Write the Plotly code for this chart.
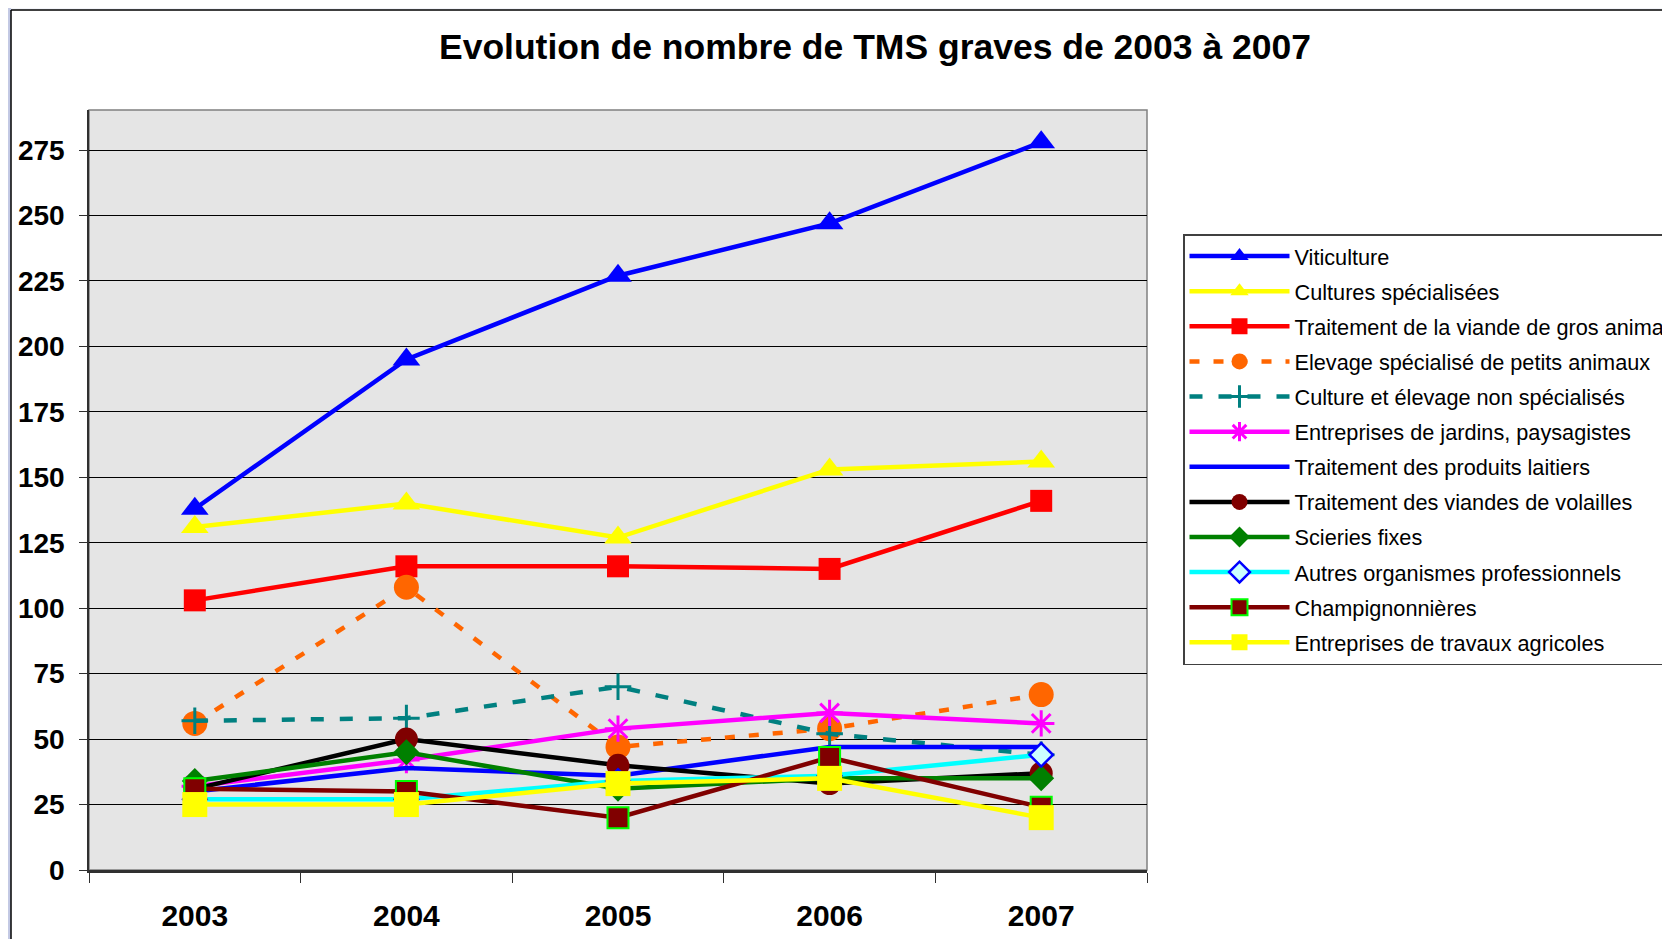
import plotly.graph_objects as go

years = ["2003", "2004", "2005", "2006", "2007"]

viticulture = [138, 195, 227, 247, 278]
cultures_specialisees = [131, 140, 127, 153, 156]
viande_gros_animaux = [103, 116, 116, 115, 141]
elevage_petits_animaux = [56, 108, 47, 54, 67]
culture_elevage_non_spec = [57, 58, 70, 52, 44]
jardins_paysagistes = [32, 42, 54, 60, 56]
produits_laitiers = [30, 39, 36, 47, 47]
viandes_volailles = [31, 50, 40, 33, 37]
scieries_fixes = [34, 45, 31, 35, 35]
autres_organismes = [27, 27, 34, 36, 44]
champignonnieres = [31, 30, 20, 43, 24]
travaux_agricoles = [25, 25, 33, 35, 20]

y_ticks = [0, 25, 50, 75, 100, 125, 150, 175, 200, 225, 250, 275]

FONT = "Liberation Sans, Arial, sans-serif"
LW = 4.5

series = [
    ("Viticulture", viticulture, dict(color="#0000FF", width=LW), dict(symbol="triangle-up", size=24, color="#0000FF")),
    ("Cultures spécialisées", cultures_specialisees, dict(color="#FFFF00", width=LW), dict(symbol="triangle-up", size=24, color="#FFFF00")),
    ("Traitement de la viande de gros animaux", viande_gros_animaux, dict(color="#FF0000", width=LW), dict(symbol="square", size=22, color="#FF0000")),
    ("Elevage spécialisé de petits animaux", elevage_petits_animaux, dict(color="#FF6600", width=LW, dash="10px,14px"), dict(symbol="circle", size=25, color="#FF6600")),
    ("Culture et élevage non spécialisés", culture_elevage_non_spec, dict(color="#008080", width=LW, dash="13px,16px"), dict(symbol="cross-thin-open", size=19, color="#008080", line=dict(color="#008080", width=3))),
    ("Entreprises de jardins, paysagistes", jardins_paysagistes, dict(color="#FF00FF", width=LW), dict(symbol="asterisk-open", size=22, color="#FF00FF", line=dict(color="#FF00FF", width=3))),
    ("Traitement des produits laitiers", produits_laitiers, dict(color="#0000FF", width=LW), None),
    ("Traitement des viandes de volailles", viandes_volailles, dict(color="#000000", width=LW), dict(symbol="circle", size=23, color="#800000")),
    ("Scieries fixes", scieries_fixes, dict(color="#008000", width=LW), dict(symbol="diamond", size=20, color="#008000")),
    ("Autres organismes professionnels", autres_organismes, dict(color="#00FFFF", width=LW), dict(symbol="diamond", size=18, color="#CCFFFF", line=dict(color="#0000FF", width=2.5))),
    ("Champignonnières", champignonnieres, dict(color="#800000", width=LW), dict(symbol="square", size=21, color="#800000", line=dict(color="#00FF00", width=2))),
    ("Entreprises de travaux agricoles", travaux_agricoles, dict(color="#FFFF00", width=LW), dict(symbol="square", size=25, color="#FFFF00")),
]

fig = go.Figure()
for i, (name, vals, line, marker) in enumerate(series):
    kw = dict(x=years, y=vals, name=name, line=line, legendgroup=f"g{i}")
    if marker is None:
        kw["mode"] = "lines"
    else:
        kw["mode"] = "lines+markers"
        kw["marker"] = marker
    fig.add_trace(go.Scatter(**kw))

OFF = 8  # page body margin
W, H = 1670 - OFF, 939 - OFF
L, R, T, B = 89 - OFF, 1147 - OFF, 110 - OFF, 870 - OFF
pw, ph = R - L, B - T


def px(x):
    # x given in page pixels
    return (x - OFF - L) / pw


def py(y):
    return (B - (y - OFF)) / ph


shapes = [
    dict(type="rect", xref="paper", yref="paper", x0=px(OFF), x1=px(1670), y0=py(10), y1=py(OFF),
         fillcolor="#f4f5fa", line=dict(width=0), layer="below"),
    dict(type="rect", xref="paper", yref="paper", x0=px(OFF), x1=px(11), y0=py(939), y1=py(OFF),
         fillcolor="#c3c9e4", line=dict(width=0), layer="below"),
    dict(type="line", xref="paper", yref="paper", x0=px(11), x1=px(1670), y0=py(10), y1=py(10),
         line=dict(color="#000000", width=1.5)),
    dict(type="line", xref="paper", yref="paper", x0=px(11), x1=px(11), y0=py(10), y1=py(939),
         line=dict(color="#000000", width=1.5)),
    dict(type="rect", xref="paper", yref="paper", x0=0, x1=1, y0=0, y1=1,
         line=dict(color="#808080", width=1.5), fillcolor="rgba(0,0,0,0)", layer="below"),
]

fig.update_layout(
    width=W, height=H,
    margin=dict(l=L, r=W - R, t=T, b=H - B, autoexpand=False),
    paper_bgcolor="#ffffff",
    plot_bgcolor="#e5e5e5",
    title=dict(text="Evolution de nombre de TMS graves de 2003 à 2007",
               font=dict(family=FONT, size=35.5, color="#000000", weight="bold"),
               xref="container", x=(875 - OFF) / W, xanchor="center",
               yref="container", y=1 - (47 - OFF) / H, yanchor="middle"),
    xaxis=dict(type="category", categoryorder="array", categoryarray=years,
               range=[-0.5, 4.5], showgrid=False, showline=True,
               linecolor="#303030", linewidth=2.5,
               ticks="outside", tickson="boundaries", ticklen=10, tickcolor="#303030", tickwidth=1,
               tickfont=dict(family=FONT, size=30, color="#000000", weight="bold"),
               ticklabelstandoff=17, zeroline=False),
    yaxis=dict(range=[0, 290.3], tickvals=y_ticks, showgrid=True, gridcolor="#000000", gridwidth=1,
               showline=True, linecolor="#303030", linewidth=1.5,
               ticks="outside", ticklen=8, tickcolor="#303030",
               tickfont=dict(family=FONT, size=28, color="#000000", weight="bold"),
               ticklabelstandoff=9, zeroline=False),
    legend=dict(x=px(1183), y=py(234), xanchor="left", yanchor="top",
                bgcolor="#ffffff", bordercolor="#404040", borderwidth=1.5,
                font=dict(family=FONT, size=21.7, color="#000000"),
                traceorder="grouped", tracegroupgap=3.9, itemwidth=100),
    shapes=shapes,
    showlegend=True,
)

fig.write_html("out.html")
